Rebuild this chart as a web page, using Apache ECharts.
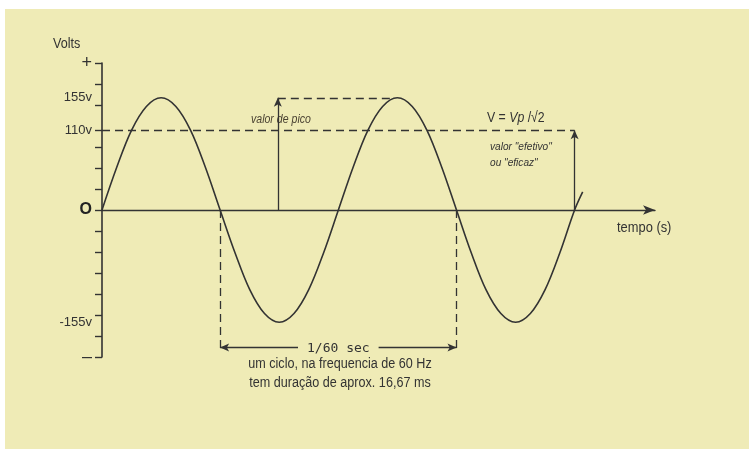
<!DOCTYPE html>
<html lang="pt">
<head>
  <meta charset="UTF-8">
  <script src="https://cdn.jsdelivr.net/npm/echarts@6/dist/echarts.min.js"></script>
  <style>
    body { margin: 0; background: #fff; }
    #main { width: 749px; height: 450px; }
  </style>
  <title>Tensão alternada</title>
</head>
<body>
  <div id="main"></div>
  <script>
    // tempo em ms, tensao em volts
    var tempo = [0, 1.04, 2.08, 3.13, 4.17, 5.21, 6.25, 7.29, 8.33, 9.38, 10.42, 11.46, 12.5, 13.54, 14.58, 15.63,
      16.67, 17.71, 18.75, 19.79, 20.83, 21.88, 22.92, 23.96, 25, 26.04, 27.08, 28.13, 29.17, 30.21, 31.25, 32.29,
      33.33, 33.9];
    var volts = [0, 59, 110, 143, 155, 143, 110, 59, 0, -59, -110, -143, -155, -143, -110, -59,
      0, 59, 110, 143, 155, 143, 110, 59, 0, -59, -110, -143, -155, -143, -110, -59,
      0, 25];

    var yTicks = [-203, -174, -145, -116, -87, -58, -29, 0, 29, 58, 87, 110, 145, 174, 203];
    var yLabelValues = [-203, -155, 0, 110, 155, 203];
    var yLabelText = { '-203': '{s|–}', '-155': '-155v', '0': '{o|O}', '110': '110v', '155': '155v', '203': '{s|+}' };

    var vPico = 155, vEficaz = 110;
    var tPico = 12.4, tPicoFim = 20.6, tEficaz = 33.33;
    var cicloInicio = 8.33, cicloFim = 25, cicloCota = -190, cicloBase = -196;

    var FONT = "'Liberation Sans', Arial, sans-serif";
    var INK = '#333';
    var BG = '#efebb6';

    var chart = echarts.init(document.getElementById('main'));
    var dashed = { type: [8, 5], width: 1.3, color: INK };
    var solid = { type: 'solid', width: 1.3, color: INK };

    function texto(x, y, str, font, opts) {
      opts = opts || {};
      return {
        type: 'text', x: x, y: y, scaleX: opts.scaleX || 0.88, silent: true,
        style: Object.assign({
          text: str, font: font, fill: INK, align: opts.align || 'left', verticalAlign: 'middle'
        }, opts.style || {})
      };
    }

    var option = {
      animation: false,
      backgroundColor: BG,
      grid: { left: 102, right: 94, top: 63, bottom: 93 },
      xAxis: {
        type: 'value', min: 0, max: 39,
        axisLine: { show: true, symbol: ['none', 'arrow'], symbolSize: [7, 12], lineStyle: { color: INK, width: 1.4 } },
        axisTick: { show: false }, axisLabel: { show: false }, splitLine: { show: false }
      },
      yAxis: {
        type: 'value', min: -203, max: 203,
        axisLine: { show: true, lineStyle: { color: INK, width: 1.6 } },
        axisTick: { show: true, length: 7, customValues: yTicks, lineStyle: { color: INK, width: 1.4 } },
        axisLabel: {
          show: true, customValues: yLabelValues, margin: 10,
          fontFamily: FONT, fontSize: 13, color: INK,
          formatter: function (v) { return yLabelText[String(Math.round(v))] || ''; },
          rich: {
            o: { fontFamily: 'Liberation Sans', fontWeight: 'bold', fontSize: 16, color: '#222' },
            s: { fontFamily: 'Liberation Sans', fontSize: 18, color: INK }
          }
        },
        splitLine: { show: false }
      },
      series: [{
        type: 'line',
        data: tempo.map(function (t, i) { return [t, volts[i]]; }),
        smooth: 0.35,
        symbol: 'none',
        lineStyle: { color: INK, width: 1.6 },
        markLine: {
          silent: true,
          symbol: 'none',
          label: { show: false },
          data: [
            [{ coord: [0, vEficaz], lineStyle: dashed }, { coord: [tEficaz, vEficaz] }],
            [{ coord: [tEficaz, 0], lineStyle: solid }, { coord: [tEficaz, vEficaz], symbol: 'arrow', symbolSize: [6, 9] }],
            [{ coord: [tPico, 0], lineStyle: solid }, { coord: [tPico, vPico], symbol: 'arrow', symbolSize: [6, 9] }],
            [{ coord: [tPico, vPico], lineStyle: dashed }, { coord: [tPicoFim, vPico] }],
            [{ coord: [cicloInicio, 0], lineStyle: dashed }, { coord: [cicloInicio, cicloBase] }],
            [{ coord: [cicloFim, 0], lineStyle: dashed }, { coord: [cicloFim, cicloBase] }],
            [{
              coord: [cicloInicio, cicloCota], symbol: 'arrow', symbolSize: [6, 9], lineStyle: solid,
              label: {
                show: true, position: 'middle', formatter: '1/60 sec', distance: 0, offset: [0, 8],
                fontFamily: "'DejaVu Sans Mono', monospace", fontSize: 13, color: INK,
                backgroundColor: BG, padding: [0, 9]
              }
            }, { coord: [cicloFim, cicloCota], symbol: 'arrow', symbolSize: [6, 9] }]
          ]
        }
      }],
      graphic: [
        { type: 'rect', shape: { x: 0, y: 0, width: 749, height: 9 }, style: { fill: '#fff' }, silent: true },
        { type: 'rect', shape: { x: 0, y: 0, width: 5, height: 450 }, style: { fill: '#fff' }, silent: true },
        { type: 'rect', shape: { x: 0, y: 449, width: 749, height: 1 }, style: { fill: '#fff' }, silent: true },
        texto(53, 44, 'Volts', '14px ' + FONT, { scaleX: 0.9 }),
        texto(617, 228, 'tempo (s)', '14px ' + FONT, { scaleX: 0.92 }),
        texto(251, 120, 'valor de pico', 'italic 12px ' + FONT, { style: { fill: '#4a4232', backgroundColor: BG } }),
        {
          type: 'text', x: 487, y: 118, scaleX: 0.82, silent: true,
          style: {
            text: '{a|V = }{b|Vp}{a| /√2}', verticalAlign: 'middle',
            rich: {
              a: { font: '15px ' + FONT, fill: INK },
              b: { font: 'italic 15px ' + FONT, fill: INK }
            }
          }
        },
        texto(490, 155, 'valor "efetivo"\nou "eficaz"', 'italic 11px ' + FONT, { scaleX: 0.92, style: { lineHeight: 16 } }),
        texto(340, 374, 'um ciclo, na frequencia de 60 Hz\ntem duração de aprox. 16,67 ms', '14px ' + FONT,
          { align: 'center', scaleX: 0.9, style: { lineHeight: 19 } })
      ]
    };

    chart.setOption(option);
  </script>
</body>
</html>
